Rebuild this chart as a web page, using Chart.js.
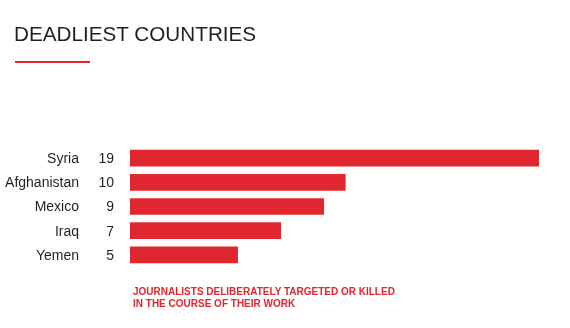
<!DOCTYPE html>
<html>
<head>
<meta charset="utf-8">
<script src="https://cdn.jsdelivr.net/npm/chart.js@4"></script>
<style>
  html, body { margin: 0; padding: 0; background: #fff; }
  #wrap { position: relative; width: 570px; height: 328px; overflow: hidden; }
  #chart { position: absolute; left: 0; top: 0; }
  #title {
    position: absolute; left: 14px; top: 22px;
    font: 20.7px "Liberation Sans", Arial, sans-serif; color: #231f20;
    white-space: nowrap;
  }
  #rule { position: absolute; left: 15px; top: 61px; width: 75px; height: 2px; background: #e0262f; }
  #note {
    position: absolute; left: 133px; top: 286px;
    font: bold 10px/12px "Liberation Sans", Arial, sans-serif; color: #e0262f;
  }
</style>
</head>
<body>
<div id="wrap">
  <canvas id="chart" width="570" height="328"></canvas>
  <div id="title">DEADLIEST COUNTRIES</div>
  <div id="rule"></div>
  <div id="note">JOURNALISTS DELIBERATELY TARGETED OR KILLED<br>IN THE COURSE OF THEIR WORK</div>
</div>
<script>
// Deadliest countries data
const countries = ['Syria', 'Afghanistan', 'Mexico', 'Iraq', 'Yemen'];
const deaths = [19, 10, 9, 7, 5];

const red = '#e0262f';

// draws country names and counts to the left of the bars
const rowLabels = {
    id: 'rowLabels',
    afterDatasetsDraw(chart) {
        const ctx = chart.ctx;
        const y = chart.scales.y;
        ctx.save();
        ctx.font = '14px "Liberation Sans", Arial, sans-serif';
        ctx.fillStyle = '#231f20';
        ctx.textAlign = 'right';
        ctx.textBaseline = 'middle';
        countries.forEach((c, i) => {
            const py = y.getPixelForValue(i) + 1;
            ctx.fillText(c, 79, py);
            ctx.fillText(String(deaths[i]), 114, py);
        });
        ctx.restore();
    }
};

const ctx = document.getElementById('chart').getContext('2d');
const deadliestChart = new Chart(ctx, {
    type: 'bar',
    data: {
        labels: countries,
        datasets: [{
            label: 'Journalists killed',
            data: deaths,
            backgroundColor: red,
            borderWidth: 0,
            barThickness: 16
        }]
    },
    options: {
        indexAxis: 'y',
        responsive: false,
        animation: false,
        layout: {
            padding: { left: 130, right: 31, top: 146, bottom: 61 }
        },
        scales: {
            x: { display: false, min: 0, max: 19 },
            y: { display: false }
        },
        plugins: {
            legend: { display: false },
            tooltip: { enabled: false }
        }
    },
    plugins: [rowLabels]
});
</script>
</body>
</html>
